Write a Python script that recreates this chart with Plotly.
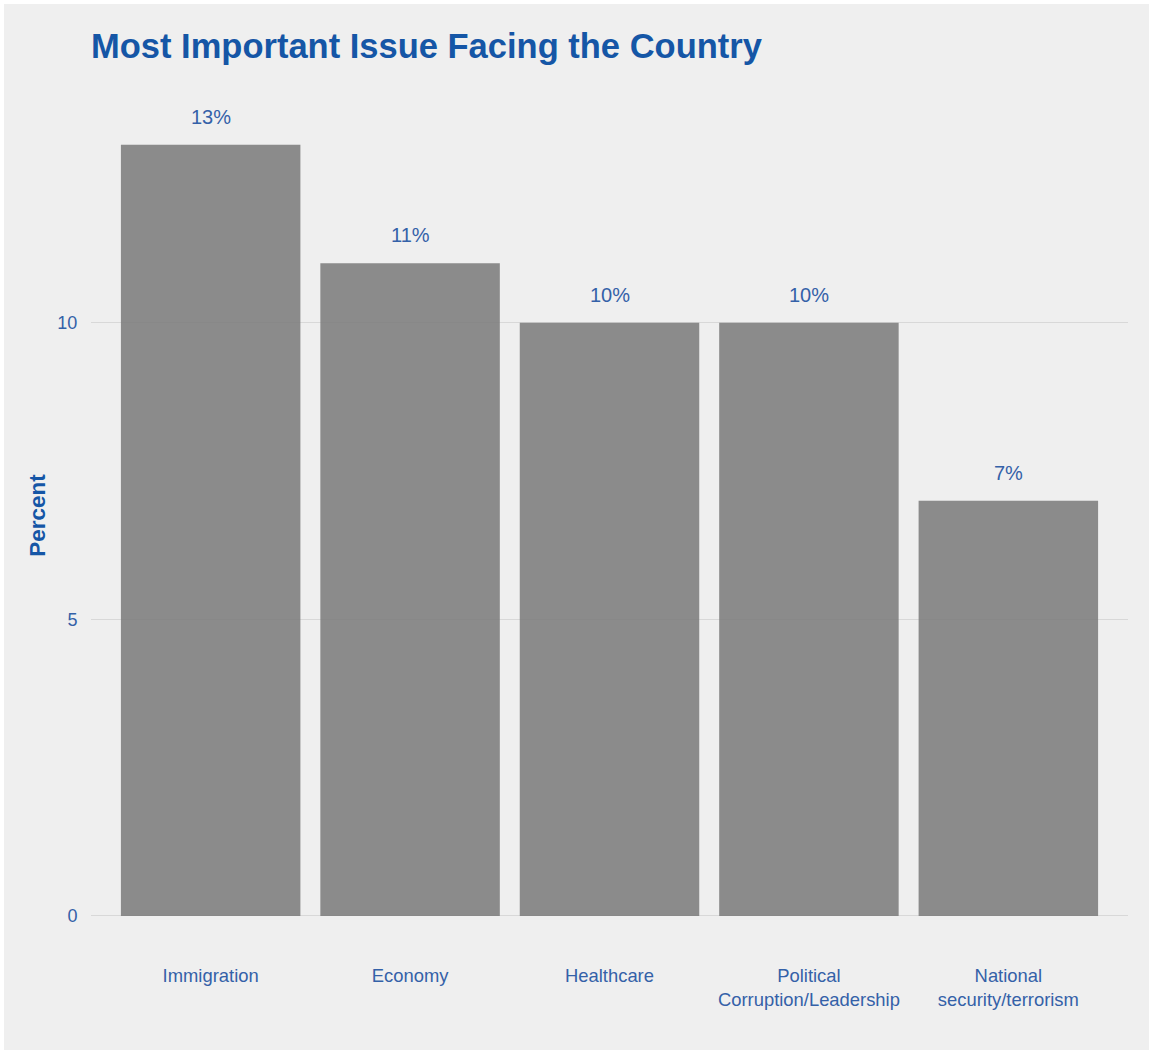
import plotly.graph_objects as go

categories = ["Immigration", "Economy", "Healthcare", "Political<br>Corruption/Leadership", "National<br>security/terrorism"]
values = [13, 11, 10, 10, 7]
labels = ["13%", "11%", "10%", "10%", "7%"]
y_ticks = [0, 5, 10]

W, H = 1151, 1053
ml, mr, mt, mb = 91, 23, 75, 97
pw, ph = W - ml - mr, H - mt - mb

FONT = "Liberation Sans, Arial, Helvetica, sans-serif"
BLUE = "#1556a6"
TXT = "#3461a8"
BG = "#efefef"

fig = go.Figure()
fig.add_trace(go.Bar(
    x=categories, y=values, width=0.9,
    marker=dict(color="rgba(128,128,128,0.9)", line=dict(width=0)),
    hoverinfo="skip",
))

for c, v, t in zip(categories, values, labels):
    fig.add_annotation(x=c, y=v, text=t, showarrow=False, yshift=28,
                       font=dict(family=FONT, size=20, color=TXT))

# grey panel with thin white border
fig.add_shape(type="rect", xref="paper", yref="paper", layer="below",
              x0=(4 - ml) / pw, x1=(W - 2 - ml) / pw,
              y0=-(H - 3 - (H - mb)) / ph, y1=((H - mb) - 4) / ph,
              fillcolor=BG, line=dict(width=0))

fig.update_layout(
    width=W, height=H,
    margin=dict(l=ml, r=mr, t=mt, b=mb, pad=0),
    paper_bgcolor="white", plot_bgcolor=BG,
    showlegend=False,
    bargap=0.1,
    title=dict(text="<b>Most Important Issue Facing the Country</b>",
               x=0, xref="paper", xanchor="left",
               y=1 - 46 / H, yref="container", yanchor="middle",
               font=dict(family=FONT, size=34.5, color=BLUE)),
    xaxis=dict(range=[-0.6, 4.6], showgrid=False, zeroline=False,
               ticks="outside", ticklen=3, tickcolor="rgba(0,0,0,0)",
               tickfont=dict(family=FONT, size=18.4, color=TXT), showline=False),
    yaxis=dict(range=[-0.675, 14.175], tickvals=y_ticks, ticktext=[str(v) for v in y_ticks],
               showgrid=True, gridcolor="#d8d8d8", gridwidth=1.2, zeroline=False,
               ticks="outside", ticklen=9, tickcolor="rgba(0,0,0,0)",
               tickfont=dict(family=FONT, size=18, color=TXT),
               title=dict(text="<b>Percent</b>", standoff=5,
                          font=dict(family=FONT, size=22.5, color=BLUE))),
)

fig.write_html("out.html", config={"displayModeBar": False},
               post_script="document.body.style.margin='0';document.body.style.overflow='hidden';")
